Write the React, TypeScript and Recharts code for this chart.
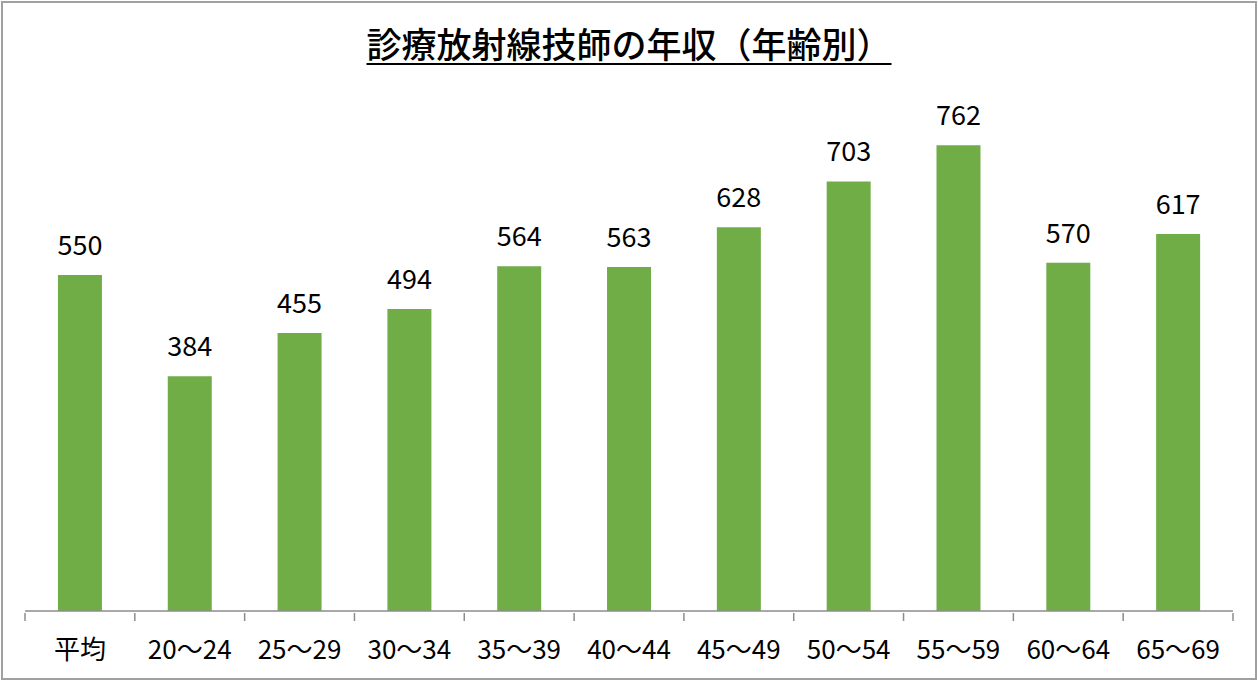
import React from "react";
import { BarChart, Bar, XAxis, YAxis, LabelList } from "recharts";

const categories = ["平均", "20～24", "25～29", "30～34", "35～39", "40～44", "45～49", "50～54", "55～59", "60～64", "65～69"];
const salaries = [550, 384, 455, 494, 564, 563, 628, 703, 762, 570, 617];
const title = "診療放射線技師の年収（年齢別）";

const data = categories.map((c, i) => ({ name: c, value: salaries[i] }));

const W = 1258;
const H = 681;
const M = { top: 61, right: 25, bottom: 0, left: 25 };
const FONT = "'Noto Sans CJK JP', 'Noto Sans', sans-serif";

const step = (W - M.left - M.right) / categories.length;

const Tick = (props: any) => {
  const { x, y, payload, index } = props;
  const axisY = y - 8;
  return (
    <g>
      <line x1={x - step / 2} x2={x - step / 2} y1={axisY} y2={axisY + 8} stroke="#8c8c8c" strokeWidth={1.5} />
      {index === categories.length - 1 && (
        <line x1={x + step / 2} x2={x + step / 2} y1={axisY} y2={axisY + 8} stroke="#8c8c8c" strokeWidth={1.5} />
      )}
      <text x={x} y={axisY + 46} textAnchor="middle" fontSize={26} fill="#000" fontFamily={FONT}>
        {payload.value}
      </text>
    </g>
  );
};

export default function App() {
  return (
    <div
      style={{
        position: "absolute",
        left: 0,
        top: 0,
        width: W,
        height: H,
        background: "#fff",
        boxSizing: "border-box",
      }}
    >
      <div
        style={{
          position: "absolute",
          left: 1,
          top: 1,
          width: W - 2,
          height: H - 2,
          border: "2px solid #a0a0a0",
          boxSizing: "border-box",
        }}
      />
      <div
        style={{
          position: "absolute",
          left: 0,
          top: 19,
          width: W,
          textAlign: "center",
          fontFamily: FONT,
          fontSize: 35,
          fontWeight: 500,
          lineHeight: "48px",
          color: "#000",
          textDecoration: "underline",
          textUnderlineOffset: "5px",
          textDecorationThickness: "2px",
        }}
      >
        {title}
      </div>
      <div style={{ position: "absolute", left: 0, top: 0 }}>
        <BarChart width={W} height={H} data={data} margin={M} barCategoryGap="30%">
          <XAxis
            dataKey="name"
            height={70}
            axisLine={{ stroke: "#8c8c8c", strokeWidth: 1.5 }}
            tickLine={false}
            tick={<Tick />}
            interval={0}
            tickSize={8}
          />
          <YAxis hide domain={[0, 900]} />
          <Bar dataKey="value" fill="#70AD47" isAnimationActive={false}>
            <LabelList dataKey="value" position="top" offset={20} fontSize={27} fill="#000" fontFamily={FONT} />
          </Bar>
        </BarChart>
      </div>
    </div>
  );
}
